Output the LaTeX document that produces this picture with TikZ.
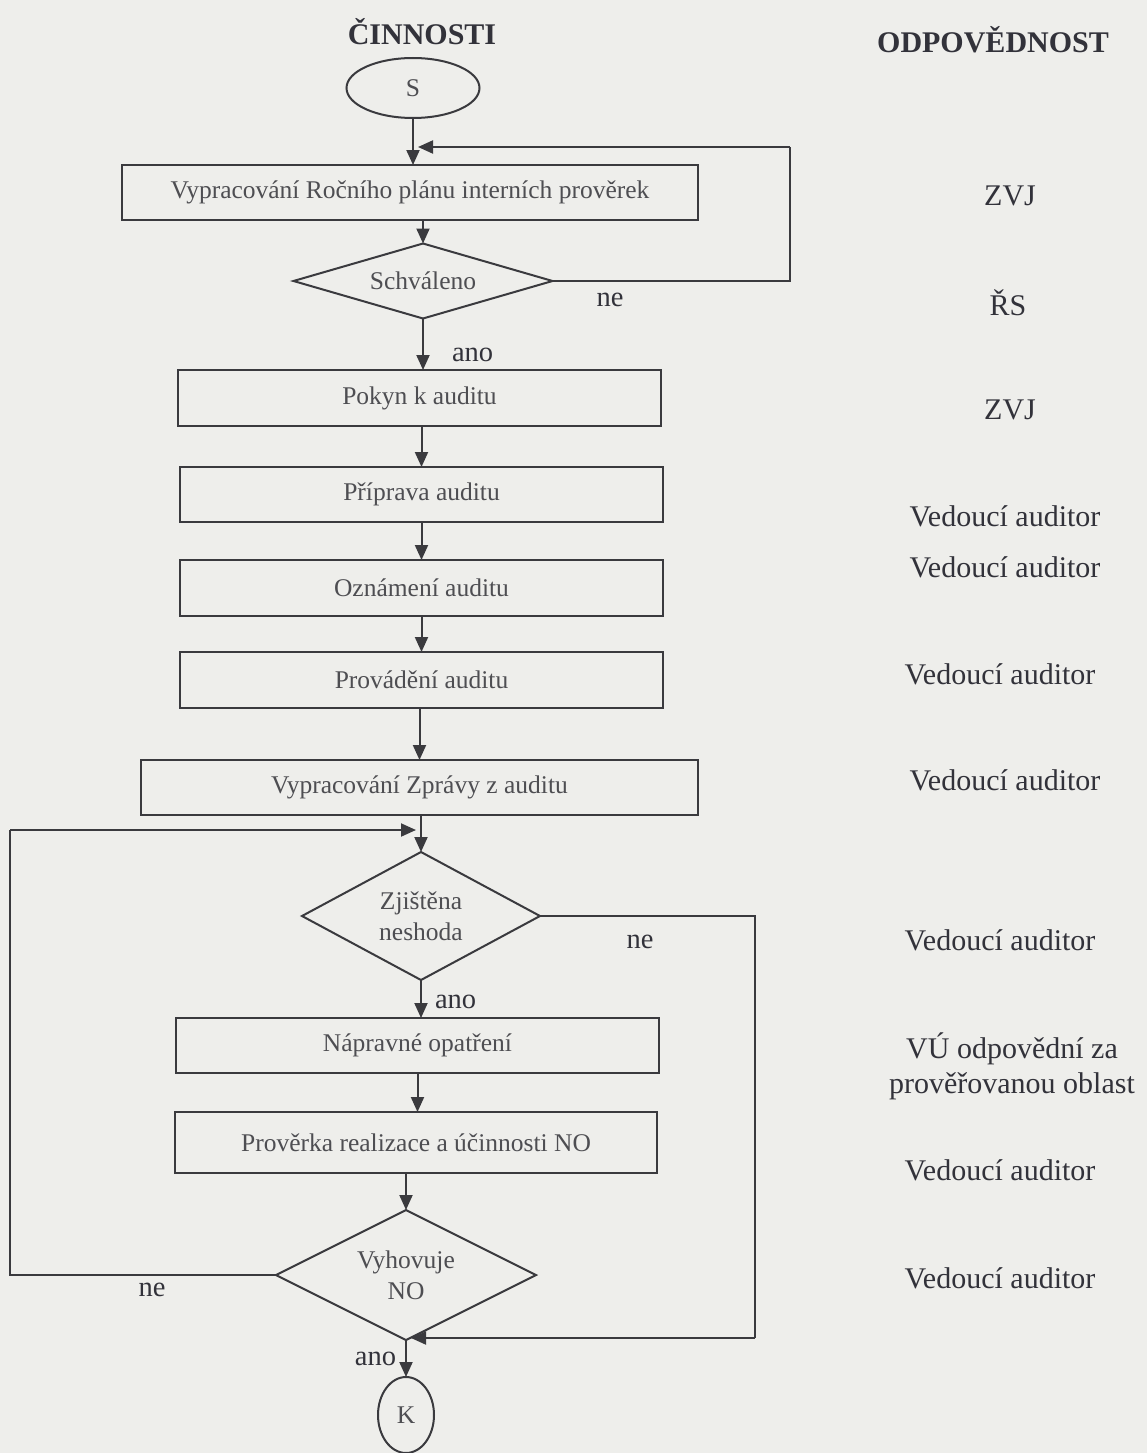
\documentclass[tikz,border=0pt]{standalone}
\usepackage{fontspec}
\setmainfont{Liberation Serif}
\usetikzlibrary{shapes.geometric,arrows.meta}
\definecolor{bgc}{RGB}{238,238,235}
\definecolor{linec}{RGB}{58,58,62}
\definecolor{boxtext}{RGB}{78,78,82}
\definecolor{restext}{RGB}{50,50,58}
\begin{document}
\begin{tikzpicture}[x=1pt,y=-1pt,
  every node/.style={inner sep=0pt, outer sep=0pt},
  proc/.style={draw=linec, line width=2pt, rectangle, minimum height=55pt,
    font=\fontsize{25.5}{30}\selectfont, text=boxtext},
  dia/.style={draw=linec, line width=2pt, diamond, label={[font=\fontsize{25.5}{31}\selectfont, text=boxtext, align=center]center:#1}},
  term/.style={draw=linec, line width=2pt, ellipse, font=\fontsize{25.5}{30}\selectfont, text=boxtext},
  resp/.style={font=\fontsize{30}{35}\selectfont, text=restext, align=center},
  lbl/.style={font=\fontsize{28.5}{32}\selectfont, text=restext},
  head/.style={font=\fontsize{30}{35}\selectfont\bfseries, text=restext},
  arr/.style={draw=linec, line width=2pt, -{Triangle[length=15pt,width=13pt]}},
  ln/.style={draw=linec, line width=2pt}]
\fill[bgc] (0,0) rectangle (1147,1453);
\useasboundingbox (0,0) rectangle (1147,1453);

% headers
\node[head] (h1) at (422,32) {ČINNOSTI};
\node[head] (h2) at (993,40) {ODPOVĚDNOST};

% flow nodes
\node[term, minimum width=133pt, minimum height=60pt] (S) at (413,88) {S};
\node[proc, minimum width=576pt] (b1) at (410,192.5) {Vypracování Ročního plánu interních prověrek};
\node[dia={Schváleno}, minimum width=259pt, minimum height=75pt] (d1) at (423,281) {};
\node[proc, minimum width=483pt, minimum height=56pt] (b2) at (419.5,398) {Pokyn k auditu};
\node[proc, minimum width=483pt] (b3) at (421.5,494.5) {Příprava auditu};
\node[proc, minimum width=483pt, minimum height=56pt] (b4) at (421.5,588) {Oznámení auditu};
\node[proc, minimum width=483pt, minimum height=56pt] (b5) at (421.5,680) {Provádění auditu};
\node[proc, minimum width=557pt] (b6) at (419.5,787.5) {Vypracování Zprávy z auditu};
\node[dia={Zjištěna\\neshoda}, minimum width=238pt, minimum height=128pt] (d2) at (421,916) {};
\node[proc, minimum width=483pt] (b7) at (417.5,1045.5) {Nápravné opatření};
\node[proc, minimum width=482pt, minimum height=61pt] (b8) at (416,1142.5) {Prověrka realizace a účinnosti NO};
\node[dia={Vyhovuje\\NO}, minimum width=260pt, minimum height=130pt] (d3) at (406,1275) {};
\node[term, minimum width=56pt, minimum height=76pt] (K) at (406,1415) {K};

% responsibility column
\node[resp] (r1) at (1010,196) {ZVJ};
\node[resp] (r2) at (1008,303) {ŘS};
\node[resp] (r3) at (1010,410) {ZVJ};
\node[resp] (r4) at (1005,516) {Vedoucí auditor};
\node[resp] (r5) at (1005,567) {Vedoucí auditor};
\node[resp] (r6) at (1000,674) {Vedoucí auditor};
\node[resp] (r7) at (1005,780) {Vedoucí auditor};
\node[resp] (r8) at (1000,940) {Vedoucí auditor};
\node[resp] (r9) at (1012,1066) {VÚ odpovědní za\\prověřovanou oblast};
\node[resp] (r10) at (1000,1170) {Vedoucí auditor};
\node[resp] (r11) at (1000,1278) {Vedoucí auditor};

% loop coordinates
\coordinate (t1) at (790,281);
\coordinate (t2) at (790,147);
\coordinate (t1e) at (418,147);
\coordinate (l1) at (10,1275);
\coordinate (l2) at (10,830);
\coordinate (l2e) at (416,830);
\coordinate (g1) at (755,916);
\coordinate (g2) at (755,1338);
\coordinate (g2e) at (411,1338);

% vertical connectors
\draw[arr] (S.south) -- (S.south |- b1.north);
\draw[arr] (d1.north |- b1.south) -- (d1.north);
\draw[arr] (d1.south) -- node[lbl, anchor=west, xshift=29pt, yshift=-11pt] (a1) {ano} (d1.south |- b2.north);
\draw[arr] (b3.north |- b2.south) -- (b3.north);
\draw[arr] (b3.south) -- (b4.north);
\draw[arr] (b4.south) -- (b5.north);
\draw[arr] (b5.south -| b6.north) -- (b6.north);
\draw[arr] (b6.south -| d2.north) -- (d2.north);
\draw[arr] (d2.south) -- node[lbl, anchor=west, xshift=14pt, yshift=-3pt] (a2) {ano} (d2.south |- b7.north);
\draw[arr] (b7.south) -- (b7.south |- b8.north);
\draw[arr] (d3.north |- b8.south) -- (d3.north);
\draw[arr] (d3.south) -- node[lbl, anchor=east, xshift=-10pt, yshift=0pt] (a3) {ano} (K.north);

% loops
\draw[ln] (d1.east) -- (t1) -- (t2);
\draw[arr] (t2) -- (t1e);
\draw[ln] (d3.west) -- (l1) -- (l2);
\draw[arr] (l2) -- (l2e);
\draw[ln] (d2.east) -- (g1) -- (g2);
\draw[arr] (g2) -- (g2e);

% ne labels
\node[lbl] (n1) at (610,300) {ne};
\node[lbl] (n2) at (640,942) {ne};
\node[lbl] (n3) at (152,1290) {ne};
\end{tikzpicture}
\end{document}
